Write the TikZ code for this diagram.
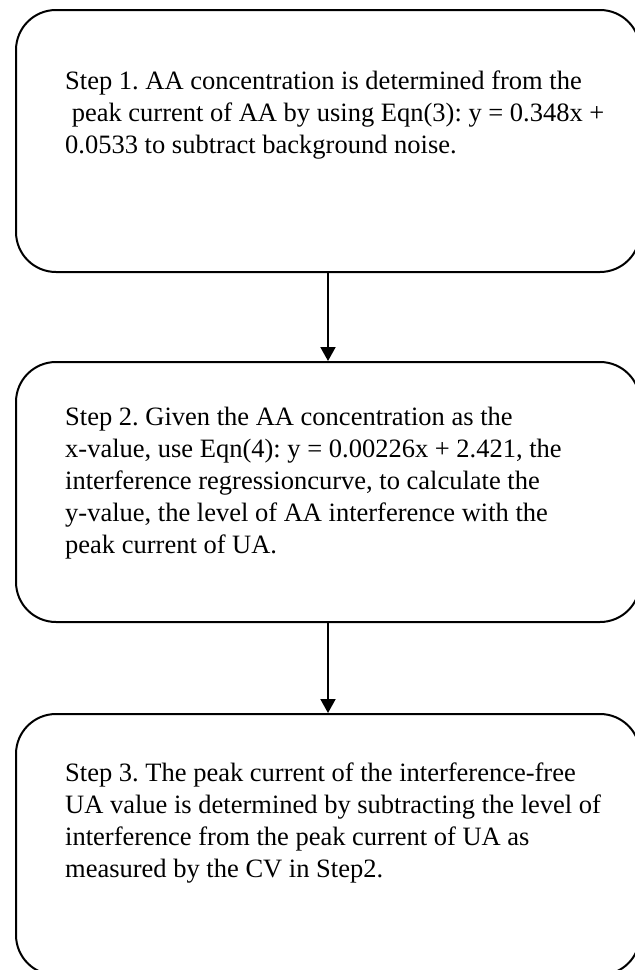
\documentclass[tikz,border=0pt]{standalone}
\usepackage{fontspec}
\setmainfont{Liberation Serif}
\usetikzlibrary{arrows.meta,positioning}
\frenchspacing

\begin{document}
\begin{tikzpicture}[x=1pt,y=-1pt,
  stepbox/.style={rectangle,draw,line width=2pt,rounded corners=40pt,minimum width=624pt,inner sep=0pt},
  steptext/.style={anchor=north west,inner sep=0pt,align=left,font=\fontsize{26.5}{32}\selectfont},
  flowarrow/.style={line width=2pt,-{Triangle[width=15pt,length=14pt]}}]

  % page frame
  \useasboundingbox (0,0) rectangle (635,970);

  % Boxes
  \node[stepbox,minimum height=262pt] (box1) at (328,141) {};
  \node[stepbox,minimum height=260pt] (box2) at (328,492) {};
  \node[stepbox,minimum height=261pt] (box3) at (328,844.5) {};

  % Step texts
  \node[steptext] (step1) at (65,71) {Step 1. AA concentration is determined from the\\
    \ peak current of AA by using Eqn(3): y = 0.348x +\\
    0.0533 to subtract background noise.};
  \node[steptext] (step2) at (65,407) {Step 2. Given the AA concentration as the\\
    x-value, use Eqn(4): y = 0.00226x + 2.421, the\\
    interference regressioncurve, to calculate the\\
    y-value, the level of AA interference with the\\
    peak current of UA.};
  \node[steptext] (step3) at (65,763) {Step 3. The peak current of the interference-free\\
    UA value is determined by subtracting the level of\\
    interference from the peak current of UA as\\
    measured by the CV in Step2.};

  % Arrows between steps
  \draw[flowarrow] (box1.south) -- (box2.north);
  \draw[flowarrow] (box2.south) -- (box3.north);
\end{tikzpicture}
\end{document}
